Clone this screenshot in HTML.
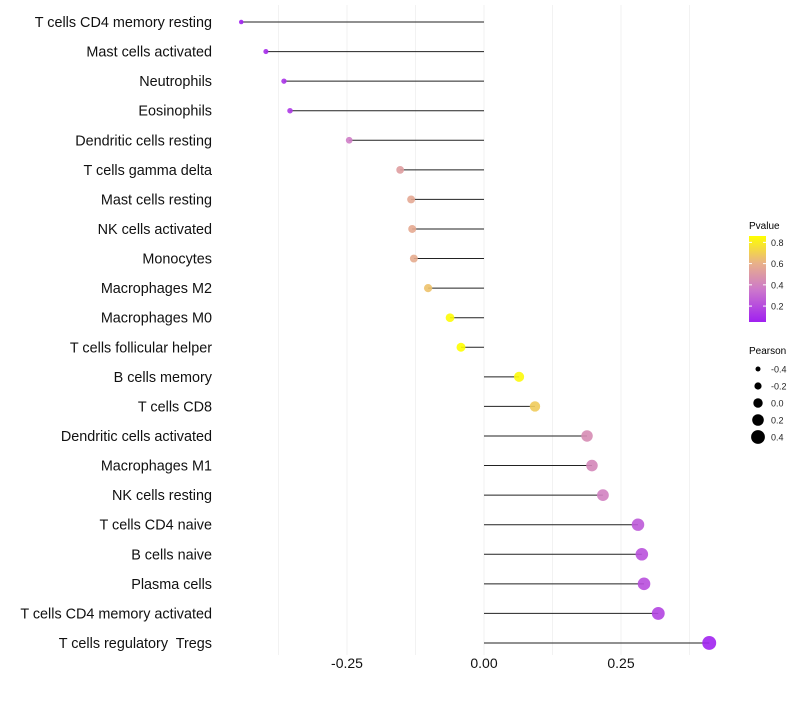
<!DOCTYPE html>
<html><head><meta charset="utf-8"><style>
body{margin:0;background:#fff;font-family:"Liberation Sans",Arial,sans-serif}
svg text{font-family:"Liberation Sans",Arial,sans-serif;white-space:pre}
</style></head><body>
<svg id="chart" width="800" height="700" xmlns="http://www.w3.org/2000/svg">
<defs><linearGradient id="pg" x1="0" y1="1" x2="0" y2="0">
<stop offset="0" stop-color="#a020f0"/><stop offset="0.37" stop-color="#cc77cc"/><stop offset="0.68" stop-color="#e8b08a"/><stop offset="1" stop-color="#ffff00"/></linearGradient></defs>
<g id="grid"></g>
<g id="marks"></g>
<g id="ylabels"></g>
<g id="xlabels"></g>
<g>
<text x="749" y="229" font-size="10">Pvalue</text>
<rect x="749" y="236" width="17" height="86" fill="url(#pg)"/>
<g id="pticks"></g>
</g>
<g id="sizeleg">
<text x="749" y="354" font-size="10">Pearson</text>
</g>
</svg>
<script>
const categories=["T cells CD4 memory resting","Mast cells activated","Neutrophils","Eosinophils","Dendritic cells resting","T cells gamma delta","Mast cells resting","NK cells activated","Monocytes","Macrophages M2","Macrophages M0","T cells follicular helper","B cells memory","T cells CD8","Dendritic cells activated","Macrophages M1","NK cells resting","T cells CD4 naive","B cells naive","Plasma cells","T cells CD4 memory activated","T cells regulatory  Tregs"];
const pearson=[-0.443,-0.398,-0.365,-0.354,-0.246,-0.153,-0.133,-0.131,-0.128,-0.102,-0.062,-0.042,0.064,0.093,0.188,0.197,0.217,0.281,0.288,0.292,0.318,0.411];
const pvalue=[0.01,0.05,0.08,0.1,0.35,0.5,0.55,0.56,0.57,0.65,0.85,0.86,0.84,0.68,0.42,0.4,0.37,0.22,0.19,0.18,0.14,0.02];
const xTicks=[-0.25,0,0.25];
const xTickLabels=["-0.25","0.00","0.25"];
const pTicks=[0.2,0.4,0.6,0.8];
const sizeTicks=[-0.4,-0.2,0.0,0.2,0.4];
const NS="http://www.w3.org/2000/svg";
const X=v=>484+v*548;
const Y=i=>22+i*29.57;
const R=v=>4.7+5.5*v;
const P=p=>322-(p-0.05)/(0.86-0.05)*86;
const stops=[[0,[160,32,240]],[0.37,[204,119,204]],[0.68,[232,176,138]],[1,[255,255,0]]];
function col(p){const t=Math.max(0,Math.min(1,(p-0.01)/(0.86-0.01)));
for(let k=1;k<stops.length;k++){if(t<=stops[k][0]){const a=stops[k-1],b=stops[k];const u=(t-a[0])/(b[0]-a[0]);
return `rgb(${a[1].map((c,j)=>Math.round(c+(b[1][j]-c)*u)).join(",")})`;}}return "rgb(255,255,0)";}
function mk(tag,attrs,parent){const e=document.createElementNS(NS,tag);for(const k in attrs)e.setAttribute(k,attrs[k]);document.getElementById(parent).appendChild(e);return e;}
for(let v=-0.375;v<=0.38;v+=0.125){const g=mk("line",{x1:X(v),x2:X(v),y1:5,y2:655,stroke:"#f2f2f2","stroke-width":1},"grid");

}
categories.forEach((c,i)=>{
const l=mk("line",{x1:X(0),x2:X(pearson[i]),y1:Y(i),y2:Y(i),stroke:"#222","stroke-width":1},"marks");


const d=mk("circle",{cx:X(pearson[i]),cy:Y(i),r:R(pearson[i]),fill:col(pvalue[i]),"fill-opacity":0.9},"marks");


const t=mk("text",{x:212,y:Y(i)+5,"text-anchor":"end","font-size":14.4,fill:"#111"},"ylabels");
t.textContent=c;


});
xTicks.forEach((v,i)=>{const t=mk("text",{x:X(v),y:668,"text-anchor":"middle","font-size":14,fill:"#111"},"xlabels");t.textContent=xTickLabels[i];

});
pTicks.forEach(p=>{mk("line",{x1:749,x2:752,y1:P(p),y2:P(p),stroke:"#fff"},"pticks");mk("line",{x1:763,x2:766,y1:P(p),y2:P(p),stroke:"#fff"},"pticks");
const t=mk("text",{x:771,y:P(p)+3.5,"font-size":9,fill:"#222"},"pticks");t.textContent=p.toFixed(1);

});
sizeTicks.forEach((s,i)=>{const y=369+i*17;
const c=mk("circle",{cx:758,cy:y,r:R(s),fill:"#000"},"sizeleg");


const t=mk("text",{x:771,y:y+3.5,"font-size":9,fill:"#222"},"sizeleg");t.textContent=s.toFixed(1);

});
</script>
</body></html>
